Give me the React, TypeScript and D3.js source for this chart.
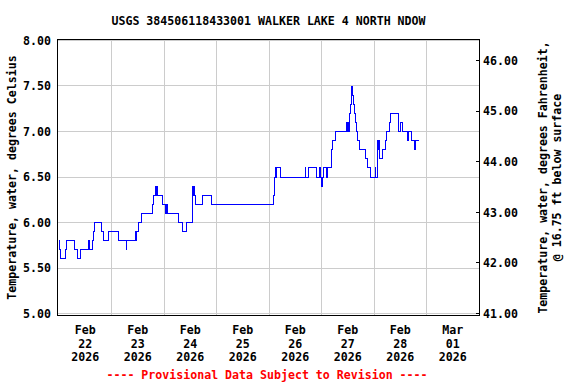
import React from "react";
import * as d3 from "d3";

// Hours since 2026-02-22 00:00 at which each reading level starts
const hours = [
  0, 0.4, 0.7, 3.0, 3.3, 7.3, 8.4, 9.7, 13.6, 13.9, 15.3, 15.8, 16.2, 19.3, 20.4, 22.7,
  27.0, 30.7, 30.9, 34.9, 35.2, 35.4, 36.2, 37.8, 42.7, 43.1, 43.9, 44.3, 44.6, 45.1,
  47.4, 48.5, 49.2, 49.6, 54.5, 56.3, 58.5, 60.9, 61.3, 61.6, 61.9, 62.6, 65.6, 69.8,
  97.9, 98.5, 98.9, 99.3, 99.6, 101.3, 112.5, 112.8, 114.0, 117.7, 118.9, 119.6, 120.2,
  120.6, 121.0, 122.5, 122.9, 124.4, 124.7, 125.2, 126.2, 131.3, 131.6, 132.0, 132.4,
  132.8, 133.2, 133.5, 133.8, 134.3, 134.7, 135.0, 135.5, 136.0, 136.4, 137.2, 139.9,
  140.8, 142.3, 144.5, 144.8, 145.4, 145.7, 146.0, 146.3, 146.6, 147.9, 149.1, 149.7,
  150.9, 151.5, 155.0, 156.3, 156.8, 159.4, 159.8, 161.2, 162.7, 163.1, 164.4,
];
const tempC = [
  5.8, 5.7, 5.6, 5.7, 5.8, 5.7, 5.6, 5.7, 5.8, 5.7, 5.8, 5.9, 6.0, 5.9, 5.8, 5.9,
  5.8, 5.7, 5.8, 5.9, 5.8, 5.9, 6.0, 6.1, 6.2, 6.3, 6.4, 6.3, 6.4, 6.3,
  6.2, 6.1, 6.2, 6.1, 6.0, 5.9, 6.0, 6.4, 6.3, 6.4, 6.3, 6.2, 6.3, 6.2,
  6.3, 6.5, 6.6, 6.5, 6.6, 6.5, 6.6, 6.5, 6.6, 6.5, 6.6, 6.5, 6.4,
  6.5, 6.6, 6.5, 6.6, 6.7, 6.8, 6.9, 7.0, 7.1, 7.0, 7.1, 7.0,
  7.2, 7.3, 7.4, 7.5, 7.4, 7.3, 7.2, 7.1, 7.0, 6.9, 6.8, 6.7,
  6.6, 6.5, 6.6, 6.5, 6.6, 6.9, 6.8, 6.9, 6.7, 6.8, 6.9, 7.0,
  7.1, 7.2, 7.0, 7.1, 7.0, 6.9, 7.0, 6.9, 6.8, 6.9, 6.9,
];

const leftTicks = [5.0, 5.5, 6.0, 6.5, 7.0, 7.5, 8.0];
const rightTicks = [41, 42, 43, 44, 45, 46];
const dayLabels = [
  ["Feb", "22", "2026"],
  ["Feb", "23", "2026"],
  ["Feb", "24", "2026"],
  ["Feb", "25", "2026"],
  ["Feb", "26", "2026"],
  ["Feb", "27", "2026"],
  ["Feb", "28", "2026"],
  ["Mar", "01", "2026"],
];

const TITLE = "USGS 384506118433001 WALKER LAKE 4 NORTH NDOW";
const LEFT_TITLE = "Temperature, water, degrees Celsius";
const RIGHT_TITLE_1 = "Temperature, water, degrees Fahrenheit,";
const RIGHT_TITLE_2 = "@ 16.75 ft below surface";
const FOOTER = "---- Provisional Data Subject to Revision ----";

const W = 576;
const H = 384;
const FRAME = { left: 57.5, right: 479.5, top: 39.5, bottom: 315.5 };
const FONT = "'DejaVu Sans Mono', 'Liberation Mono', monospace";
const FS = 11.6;

const t0 = Date.UTC(2026, 1, 22);
const HOUR = 3600 * 1000;

export default function App() {
  const x = d3
    .scaleUtc()
    .domain([new Date(t0), new Date(t0 + 8 * 24 * HOUR)])
    .range([59, 479]);
  const y = d3.scaleLinear().domain([5, 8]).range([313.5, 40.5]);
  const yF = d3
    .scaleLinear()
    .domain([41, 46.4])
    .range([y(5), y((46.4 - 32) * 5 / 9)]);

  const pts = hours.map((h, i) => [new Date(t0 + h * HOUR), tempC[i]] as [Date, number]);
  const line = d3
    .line<[Date, number]>()
    .x((d) => x(d[0]))
    .y((d) => y(d[1]))
    .curve(d3.curveStepAfter);

  const dayBounds = d3.utcDay.range(new Date(t0 + 24 * HOUR), new Date(t0 + 8 * 24 * HOUR));
  const crisp = (v: number) => Math.floor(v) + 0.5;

  const midY = (FRAME.top + FRAME.bottom) / 2;

  return (
    <svg
      width={W}
      height={H}
      style={{ position: "absolute", left: 0, top: 0, background: "#fff" }}
      fontFamily={FONT}
      fontWeight="bold"
      fontSize={FS}
    >
      <rect x={0} y={0} width={W} height={H} fill="#fff" />
      <text x={(FRAME.left + FRAME.right) / 2} y={25} textAnchor="middle">
        {TITLE}
      </text>

      {/* grid */}
      <g stroke="#cccccc" strokeWidth={1} shapeRendering="crispEdges">
        {leftTicks.map((v) => (
          <line key={"h" + v} x1={FRAME.left} x2={FRAME.right} y1={crisp(y(v))} y2={crisp(y(v))} />
        ))}
        {dayBounds.map((d) => (
          <line
            key={"v" + d.getTime()}
            x1={crisp(x(d))}
            x2={crisp(x(d))}
            y1={FRAME.top}
            y2={FRAME.bottom}
          />
        ))}
      </g>

      {/* data */}
      <path
        d={line(pts) || ""}
        fill="none"
        stroke="#0000ff"
        strokeWidth={1}
        shapeRendering="crispEdges"
      />

      {/* frame */}
      <rect
        x={FRAME.left}
        y={FRAME.top}
        width={FRAME.right - FRAME.left}
        height={FRAME.bottom - FRAME.top}
        fill="none"
        stroke="#000"
        strokeWidth={1}
        shapeRendering="crispEdges"
      />

      {/* right ticks */}
      <g stroke="#000" shapeRendering="crispEdges">
        {rightTicks.map((v) => (
          <line
            key={"rt" + v}
            x1={FRAME.right - 4}
            x2={FRAME.right}
            y1={crisp(yF(v))}
            y2={crisp(yF(v))}
          />
        ))}
      </g>

      {/* left labels */}
      {leftTicks.map((v) => (
        <text key={"l" + v} x={51} y={y(v)} dy="0.36em" textAnchor="end">
          {d3.format(".2f")(v)}
        </text>
      ))}
      {/* right labels */}
      {rightTicks.map((v) => (
        <text key={"r" + v} x={483} y={yF(v)} dy="0.36em" textAnchor="start">
          {d3.format(".2f")(v)}
        </text>
      ))}

      {/* x labels */}
      {dayLabels.map((lab, i) => {
        const cx = x(new Date(t0 + (i * 24 + 12) * HOUR));
        return (
          <g key={"x" + i}>
            {lab.map((s, j) => (
              <text key={j} x={cx} y={334 + j * 13.5} textAnchor="middle">
                {s}
              </text>
            ))}
          </g>
        );
      })}

      {/* axis titles */}
      <text
        transform={`translate(12, ${midY}) rotate(-90)`}
        textAnchor="middle"
        dy="0.36em"
      >
        {LEFT_TITLE}
      </text>
      <text
        transform={`translate(543, ${midY}) rotate(-90)`}
        textAnchor="middle"
        dy="0.36em"
      >
        {RIGHT_TITLE_1}
      </text>
      <text
        transform={`translate(557, ${midY}) rotate(-90)`}
        textAnchor="middle"
        dy="0.36em"
      >
        {RIGHT_TITLE_2}
      </text>

      <text x={267} y={379} textAnchor="middle" fill="#ff0000">
        {FOOTER}
      </text>
    </svg>
  );
}
